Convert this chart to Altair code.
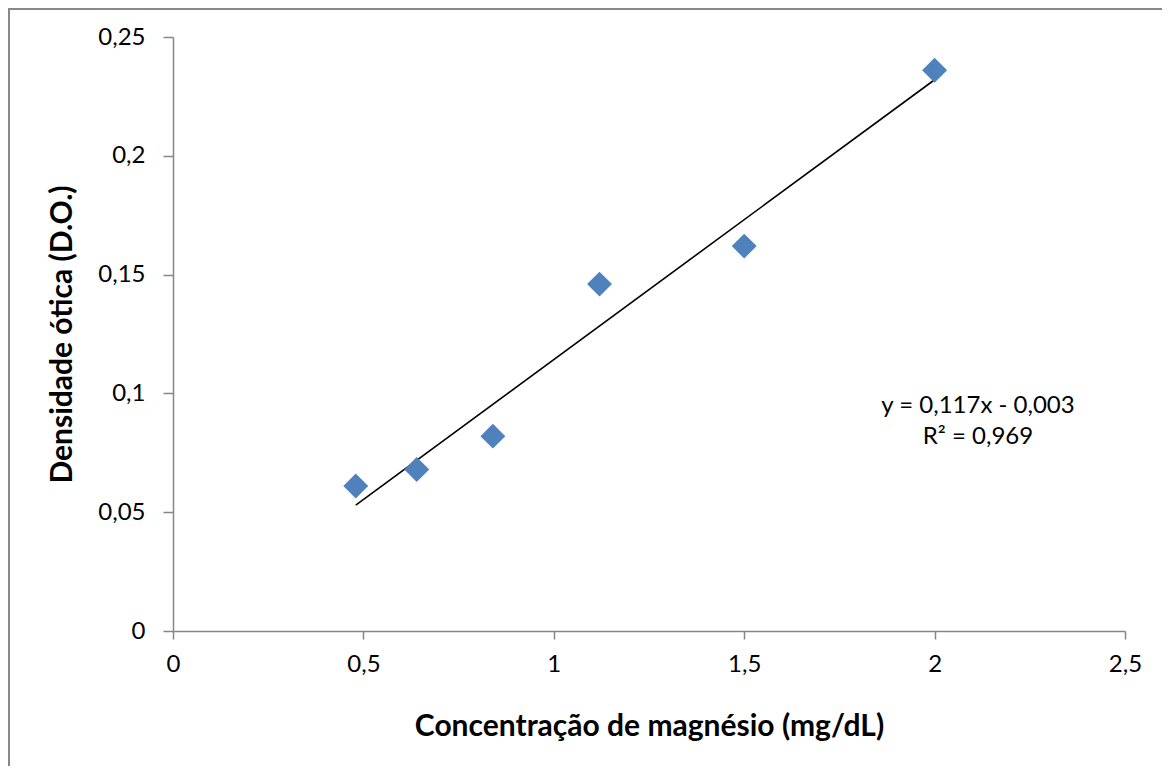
import altair as alt
import pandas as pd

# data
conc = [0.48, 0.64, 0.84, 1.12, 1.5, 2.0]
od = [0.061, 0.068, 0.082, 0.146, 0.162, 0.236]
trend_x = [0.48, 2.0]
trend_y = [0.053, 0.232]
x_ticks = [0, 0.5, 1, 1.5, 2, 2.5]
y_ticks = [0, 0.05, 0.1, 0.15, 0.2, 0.25]
eq_lines = ["y = 0,117x - 0,003", "R² = 0,969"]

pts = pd.DataFrame({"x": conc, "y": od})
trend = pd.DataFrame({"x": trend_x, "y": trend_y})

FONT = "Lato"
W, H = 952, 594
label_expr = "replace(format(datum.value, '~g'), '.', ',')"

xs = alt.Scale(domain=[0, 2.5], nice=False, zero=False)
ys = alt.Scale(domain=[0, 0.25], nice=False, zero=False)

xaxis = alt.Axis(
    values=x_ticks, labelExpr=label_expr, grid=False, zindex=1, labelFlush=False,
    title="Concentração de magnésio (mg/dL)",
    domainColor="#868686", domainWidth=1.5, tickColor="#868686", tickWidth=1.5,
    tickSize=8, labelPadding=13, labelFont=FONT, labelFontSize=24, labelColor="black",
    titleFont=FONT, titleFontSize=30, titleFontWeight="bold", titleColor="black",
    titleBaseline="alphabetic", titleY=104, titleX=W / 2, titleAlign="center",
)
yaxis = alt.Axis(
    values=y_ticks, labelExpr=label_expr, grid=False, zindex=1, labelFlush=False,
    title="Densidade ótica (D.O.)",
    domainColor="#868686", domainWidth=1.5, tickColor="#868686", tickWidth=1.5,
    tickSize=10, labelPadding=18, labelFont=FONT, labelFontSize=24, labelColor="black",
    labelBaseline="middle",
    titleFont=FONT, titleFontSize=30, titleFontWeight="bold", titleColor="black",
    titleAngle=-90, titleBaseline="alphabetic", titleAlign="center",
    titleX=-102, titleY=H / 2,
)

frame = alt.Chart(pd.DataFrame({"a": [0]})).mark_rect(
    fillOpacity=0, stroke="#888888", strokeWidth=2
).encode(
    x=alt.value(-164), x2=alt.value(1200), y=alt.value(-28), y2=alt.value(800)
)

line = alt.Chart(trend).mark_line(color="black", strokeWidth=1.6).encode(
    x=alt.X("x:Q", scale=xs, axis=xaxis),
    y=alt.Y("y:Q", scale=ys, axis=yaxis),
)

points = alt.Chart(pts).mark_point(
    shape="diamond", filled=True, size=620, color="#4F81BD", opacity=1
).encode(
    x=alt.X("x:Q", scale=xs),
    y=alt.Y("y:Q", scale=ys),
)

eq1 = alt.Chart(pd.DataFrame({"t": [eq_lines[0]]})).mark_text(
    font=FONT, fontSize=24, color="black", align="center", baseline="alphabetic"
).encode(text="t:N", x=alt.value(805), y=alt.value(376))
eq2 = alt.Chart(pd.DataFrame({"t": [eq_lines[1]]})).mark_text(
    font=FONT, fontSize=24, color="black", align="center", baseline="alphabetic"
).encode(text="t:N", x=alt.value(805), y=alt.value(407))

chart = alt.layer(frame, line, points, eq1, eq2).properties(
    width=W, height=H,
    autosize=alt.AutoSizeParams(type="none"),
    padding={"left": 165, "top": 29, "right": 37, "bottom": 135},
    background="white",
).configure_view(stroke=None)

chart.save("out.html", embed_options={"renderer": "svg", "actions": False})
